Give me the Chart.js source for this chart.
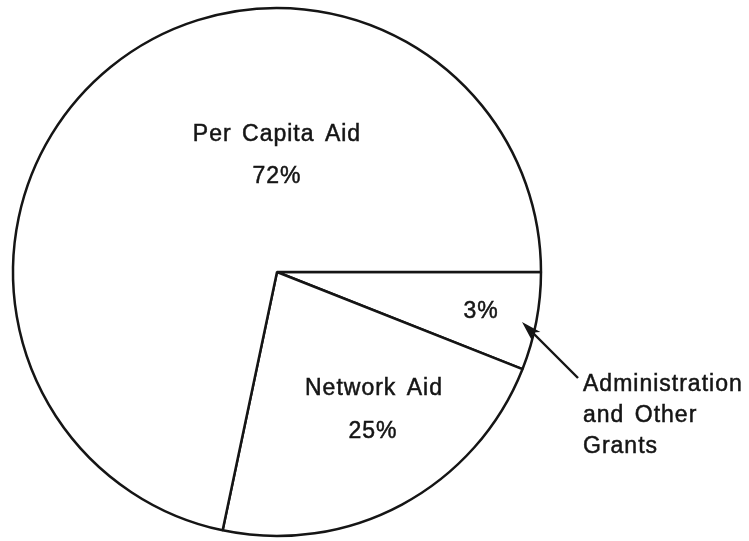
<!DOCTYPE html>
<html>
<head>
<meta charset="utf-8">
<script src="https://cdn.jsdelivr.net/npm/chart.js@4.4.1/dist/chart.umd.min.js"></script>
<style>
  html, body { margin: 0; padding: 0; background: #fff; }
  #wrap { width: 749px; height: 541px; }
</style>
</head>
<body>
<div id="wrap"><canvas id="mycanvas" width="749" height="541"></canvas></div>
<script>
// slices go clockwise from 3 o'clock
var categories = ["Administration and Other Grants", "Network Aid", "Per Capita Aid"];
// printed shares in the figure
var percentLabels = ["3%", "25%", "72%"];
// wedge sizes as actually drawn in the source (its drawing does not follow the printed 3/25 split)
var sliceValues = [6, 22.3, 71.7];

var inkColor = "#151515";
var fontFamily = "'Liberation Sans', Arial, Helvetica, sans-serif";

// labels and the callout arrow, placed relative to the pie centre
var labelPlugin = {
	id: "labels",
	afterDatasetsDraw: function(chart) {
		var ctx = chart.ctx;
		var arc = chart.getDatasetMeta(0).data[0];
		var cx = arc.x, cy = arc.y;

		ctx.save();
		ctx.fillStyle = inkColor;
		ctx.strokeStyle = inkColor;
		ctx.lineWidth = 0.5;
		ctx.font = "23px " + fontFamily;
		ctx.textBaseline = "alphabetic";
		ctx.letterSpacing = "1px";
		ctx.wordSpacing = "3px";

		function put(t, x, y) {
			ctx.fillText(t, x, y);
			ctx.strokeText(t, x, y);
		}

		ctx.textAlign = "center";
		put(categories[2], cx, cy - 131);
		put(percentLabels[2], cx, cy - 89);
		put(percentLabels[0], cx + 204, cy + 46);
		put(categories[1], cx + 97, cy + 123);
		put(percentLabels[1], cx + 96, cy + 166);

		ctx.textAlign = "left";
		var words = ["Administration", "and Other", "Grants"];
		for (var i = 0; i < words.length; i++) {
			put(words[i], cx + 306, cy + 119 + i * 31);
		}

		// arrow
		var x0 = cx + 301, y0 = cy + 106;
		var x1 = cx + 245, y1 = cy + 50;
		ctx.lineWidth = 2.4;
		ctx.beginPath();
		ctx.moveTo(x0, y0);
		ctx.lineTo(x1 + 8, y1 + 8);
		ctx.stroke();

		var ang = Math.atan2(y1 - y0, x1 - x0);
		var len = 20, half = 6;
		var bx = x1 - Math.cos(ang) * len, by = y1 - Math.sin(ang) * len;
		ctx.beginPath();
		ctx.moveTo(x1, y1);
		ctx.lineTo(bx + Math.sin(ang) * half, by - Math.cos(ang) * half);
		ctx.lineTo(bx + Math.cos(ang) * 5, by + Math.sin(ang) * 5);
		ctx.lineTo(bx - Math.sin(ang) * half, by + Math.cos(ang) * half);
		ctx.closePath();
		ctx.fill();
		ctx.restore();
	}
};

var chartdata = {
	labels: categories,
	datasets: [
		{
			data: sliceValues,
			backgroundColor: "#ffffff",
			borderColor: inkColor,
			borderWidth: 2.5,
			borderAlign: "center",
			hoverOffset: 0
		}
	]
};

var ctx = document.getElementById("mycanvas");

var PieGraph = new Chart(ctx, {
	type: "pie",
	data: chartdata,
	plugins: [labelPlugin],
	options: {
		responsive: false,
		animation: false,
		devicePixelRatio: 1,
		rotation: 90,
		radius: 264,
		layout: { padding: { left: 5, right: 200, top: 3, bottom: 0 } },
		plugins: {
			legend: { display: false },
			tooltip: { enabled: false }
		}
	}
});
</script>
</body>
</html>
